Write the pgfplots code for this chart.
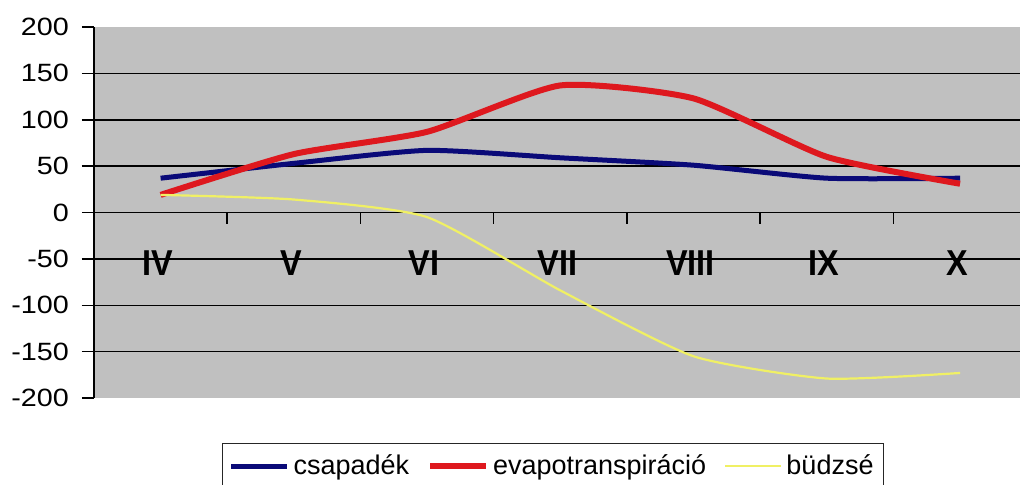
\documentclass[border=0pt]{standalone}
\usepackage{fontspec}
\setmainfont{Liberation Sans}
\newfontfamily\tickfont{Liberation Sans}[FakeStretch=1.15]
\newfontfamily\catfont{Liberation Sans}[FakeStretch=0.9]
\usepackage{pgfplots}
\pgfplotsset{compat=1.18}
\definecolor{plotgray}{RGB}{192,192,192}
\definecolor{cblue}{RGB}{10,10,120}
\definecolor{cred}{RGB}{222,24,30}
\definecolor{cyellow}{RGB}{240,240,100}
\begin{document}
\begin{tikzpicture}
\useasboundingbox (-47pt,-43pt) rectangle (463pt,199pt);
\clip (-47pt,-43pt) rectangle (463pt,199pt);
\begin{axis}[
  at={(0pt,0pt)}, anchor=south west,
  scale only axis,
  width=463pt, height=185.5pt,
  xmin=-0.5, xmax=6.45,
  ymin=-200, ymax=200,
  axis background/.style={fill=plotgray},
  axis x line=middle,
  axis y line=left,
  axis line style={-, black, line width=0.75pt},
  tick align=outside,
  major tick length=6pt,
  minor tick length=5.5pt,
  tick style={black, line width=0.75pt},
  xtick={0,...,6},
  xticklabels={IV,V,VI,VII,VIII,IX,X},
  minor x tick num=1,
  major x tick style={draw=none},
  xticklabel style={anchor=center, yshift=-19.5pt, xshift=-1.5pt, font=\fontsize{18}{20}\catfont\bfseries},
  ytick={-200,-150,...,200},
  yticklabel style={font=\fontsize{12.5}{15}\tickfont, xshift=-3pt},
  /pgf/number format/assume math mode=true,
  extra y ticks={-150,-100,-50,50,100,150},
  extra y tick labels={},
  extra y tick style={grid=major},
  major grid style={black, line width=0.75pt},
  legend columns=3,
  legend style={at={(0.1382,-0.1213)}, anchor=north west, draw=black!85, line width=0.6pt, fill=white,
    font=\fontsize{13.5}{16}\selectfont, inner xsep=3pt, inner ysep=4pt,
    /tikz/every even column/.append style={column sep=7pt},
    nodes={inner xsep=2pt, inner ysep=1.5pt}},
  legend image code/.code={\draw[#1] (0pt,0pt) -- (28pt,0pt);},
]
\addplot[cblue, line width=2.5pt, smooth, tension=0.35] coordinates {
  (0,37) (1,53) (2,67) (3,59) (4,51) (5,37) (6,37)};
\addlegendentry{csapadék}
\addplot[cred, line width=3pt, smooth, tension=0.35] coordinates {
  (0,19) (1,63) (2,87) (3,137) (4,123) (5,60) (6,31)};
\addlegendentry{evapotranspiráció}
\addplot[cyellow, line width=1.1pt, smooth, tension=0.35] coordinates {
  (0,19) (1,14) (2,-5) (3,-84) (4,-155) (5,-179) (6,-173)};
\addlegendentry{büdzsé}
\end{axis}
\end{tikzpicture}
\end{document}
